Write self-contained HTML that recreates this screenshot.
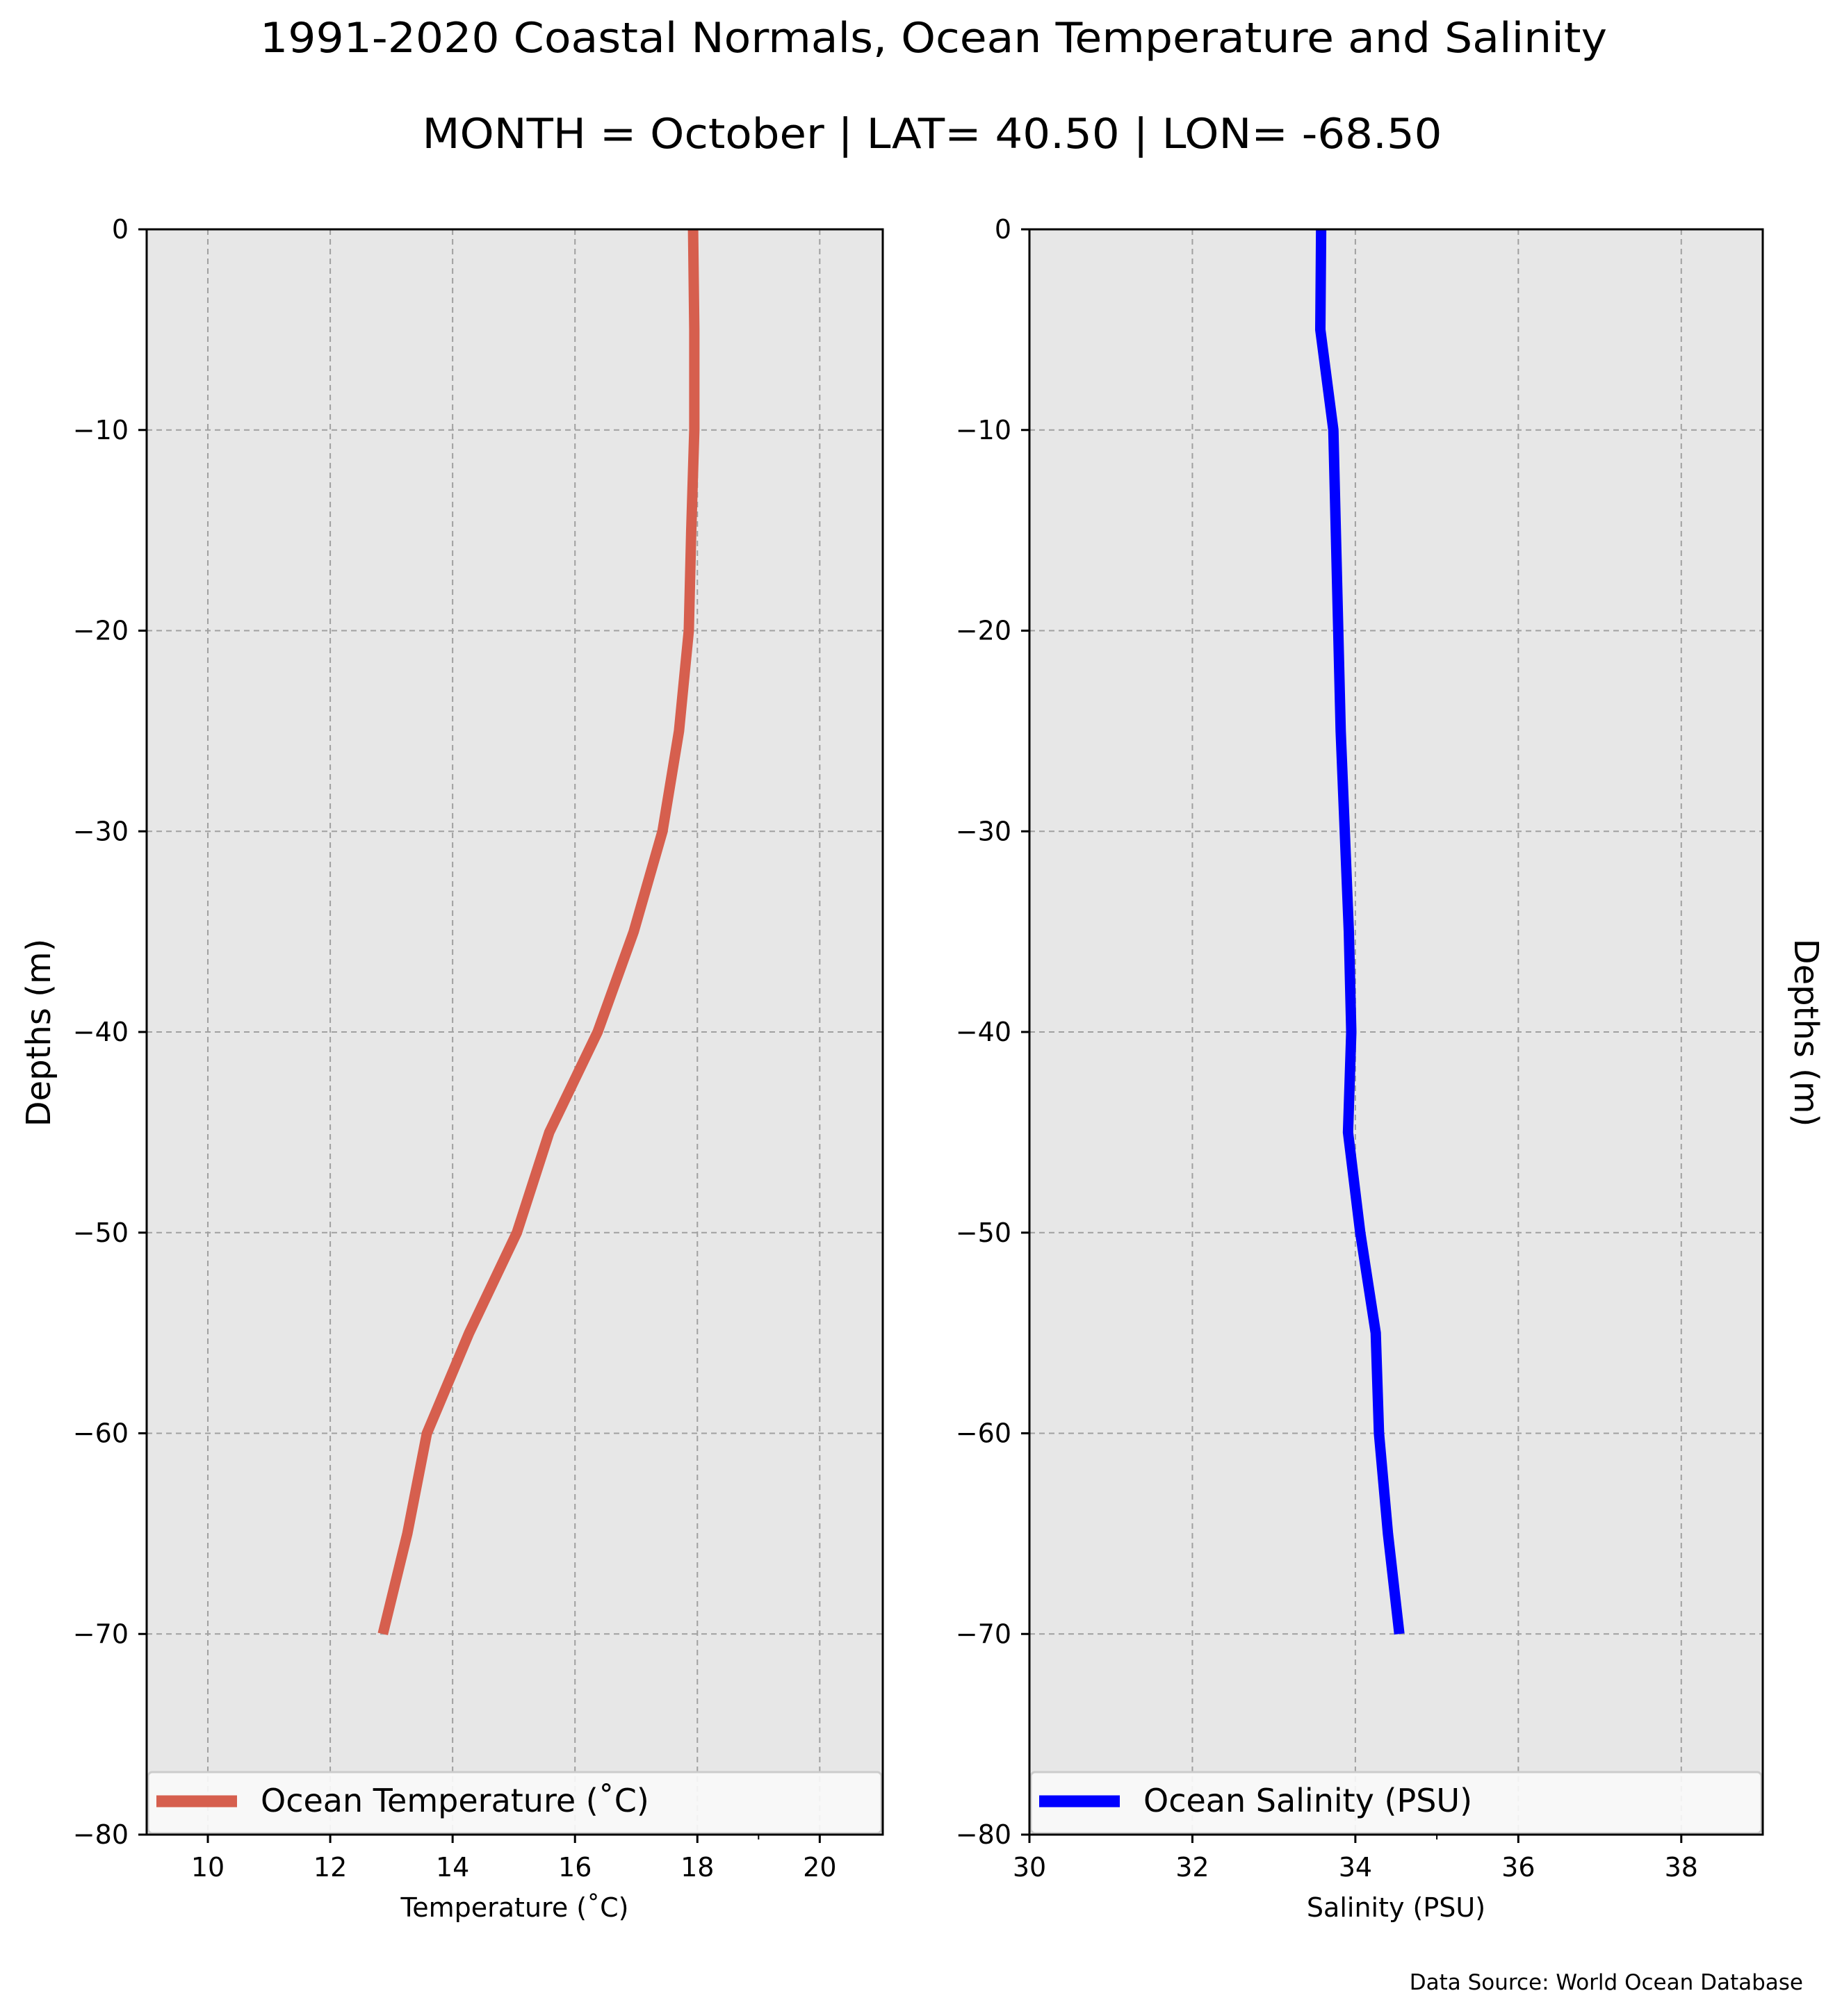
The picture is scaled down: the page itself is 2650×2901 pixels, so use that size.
<!DOCTYPE html>
<html><head><meta charset="utf-8"><style>
html,body{margin:0;padding:0;background:#fff}
svg{display:block;font-family:"DejaVu Sans","Liberation Sans",sans-serif}
</style></head><body>
<svg id="fig" width="2650" height="2901" viewBox="0 0 2650 2901" xmlns="http://www.w3.org/2000/svg">
<text x="1343" y="75" font-size="60" text-anchor="middle" textLength="1938" lengthAdjust="spacingAndGlyphs">1991-2020 Coastal Normals, Ocean Temperature and Salinity</text>
<text x="1341" y="213" font-size="60" text-anchor="middle" textLength="1467" lengthAdjust="spacingAndGlyphs">MONTH = October | LAT= 40.50 | LON= -68.50</text>
<text x="2594" y="2863" font-size="31" text-anchor="end">Data Source: World Ocean Database</text>
</svg>
<script>
const depths = [0,-5,-10,-15,-20,-25,-30,-35,-40,-45,-50,-55,-60,-65,-70];
const temperature = [17.93,17.95,17.95,17.9,17.86,17.7,17.43,16.96,16.37,15.58,15.05,14.27,13.58,13.26,12.86];
const salinity = [33.58,33.57,33.73,33.76,33.79,33.82,33.87,33.92,33.95,33.91,34.06,34.25,34.29,34.40,34.54];
const yTicks = [0,-10,-20,-30,-40,-50,-60,-70,-80];
const tempTicks = [10,12,14,16,18,20];
const salTicks = [30,32,34,36,38];

const NS='http://www.w3.org/2000/svg';
const svg=document.getElementById('fig');
function mk(tag,attrs,parent){const e=document.createElementNS(NS,tag);for(const k in attrs)e.setAttribute(k,attrs[k]);(parent||svg).appendChild(e);return e;}

function panel(o){
  const g=mk('g',{});
  
  
  const top=330,bot=2640,L=o.left,R=o.right;
  const sx=v=>L+(v-o.xmin)/(o.xmax-o.xmin)*(R-L);
  const sy=v=>top+(0-v)/80*(bot-top);
  const bg=mk('rect',{x:L,y:top,width:R-L,height:bot-top,fill:'#e7e7e7'},g);
  
  
  o.xticks.forEach(t=>{
    const ln=mk('line',{x1:sx(t),x2:sx(t),y1:top,y2:bot,stroke:'#a0a0a0','stroke-width':2,'stroke-dasharray':'8,6'},g);
    
    
  });
  yTicks.forEach(t=>{
    const ln=mk('line',{x1:L,x2:R,y1:sy(t),y2:sy(t),stroke:'#a0a0a0','stroke-width':2,'stroke-dasharray':'8,6'},g);
    
    
  });
  const pts=depths.map((d,i)=>sx(o.vals[i])+','+sy(d)).join(' ');
  const pl=mk('polyline',{points:pts,fill:'none',stroke:o.color,'stroke-width':15,'stroke-linejoin':'miter'},g);
  
  
  // legend
  const lg=mk('g',{},g);
  
  
  mk('rect',{x:L+2,y:2550,width:R-L-4,height:88,rx:6,fill:'#fafafa','fill-opacity':0.9,stroke:'#cccccc','stroke-width':3},lg);
  mk('line',{x1:L+14,x2:L+130,y1:2592,y2:2592,stroke:o.color,'stroke-width':17},lg);
  const lt=mk('text',{x:L+164,y:2607,'font-size':46},lg);
  lt.textContent=o.legend;
  // frame
  const fr=mk('rect',{x:L,y:top,width:R-L,height:bot-top,fill:'none',stroke:'#000','stroke-width':3},g);
  
  
  // x ticks
  o.xticks.forEach(t=>{
    mk('line',{x1:sx(t),x2:sx(t),y1:bot,y2:bot+12,stroke:'#000','stroke-width':3},g);
    const tx=mk('text',{x:sx(t),y:2700,'font-size':38,'text-anchor':'middle'},g);
    
    
    tx.textContent=t;
  });
  mk('line',{x1:sx(o.minor),x2:sx(o.minor),y1:bot,y2:bot+7,stroke:'#000','stroke-width':2},g);
  yTicks.forEach(t=>{
    mk('line',{x1:L-12,x2:L,y1:sy(t),y2:sy(t),stroke:'#000','stroke-width':3},g);
    const tx=mk('text',{x:L-26,y:sy(t)+13,'font-size':38,'text-anchor':'end'},g);
    
    
    tx.textContent=t===0?'0':'\u2212'+Math.abs(t);
  });
  const xl=mk('text',{x:(L+R)/2,y:2758,'font-size':38,'text-anchor':'middle'},g);
  
  
  xl.textContent=o.xlabel;
}
panel({name:'temperature-panel',left:211,right:1270,xmin:9,xmax:21.03,xticks:tempTicks,minor:19,vals:temperature,color:'#d65f4e',seriesName:'temperature-line',legend:'Ocean Temperature (\u02DAC)',xlabel:'Temperature (\u02DAC)'});
panel({name:'salinity-panel',left:1481,right:2536,xmin:30,xmax:39,xticks:salTicks,minor:35,vals:salinity,color:'#0000ff',seriesName:'salinity-line',legend:'Ocean Salinity (PSU)',xlabel:'Salinity (PSU)'});

const yl=mk('text',{x:0,y:0,'font-size':48,'text-anchor':'middle',transform:'translate(72,1486) rotate(-90)'});


yl.textContent='Depths (m)';
const yr=mk('text',{x:0,y:0,'font-size':48,'text-anchor':'middle',transform:'translate(2582,1486) rotate(90)'});


yr.textContent='Depths (m)';
</script>
</body></html>
